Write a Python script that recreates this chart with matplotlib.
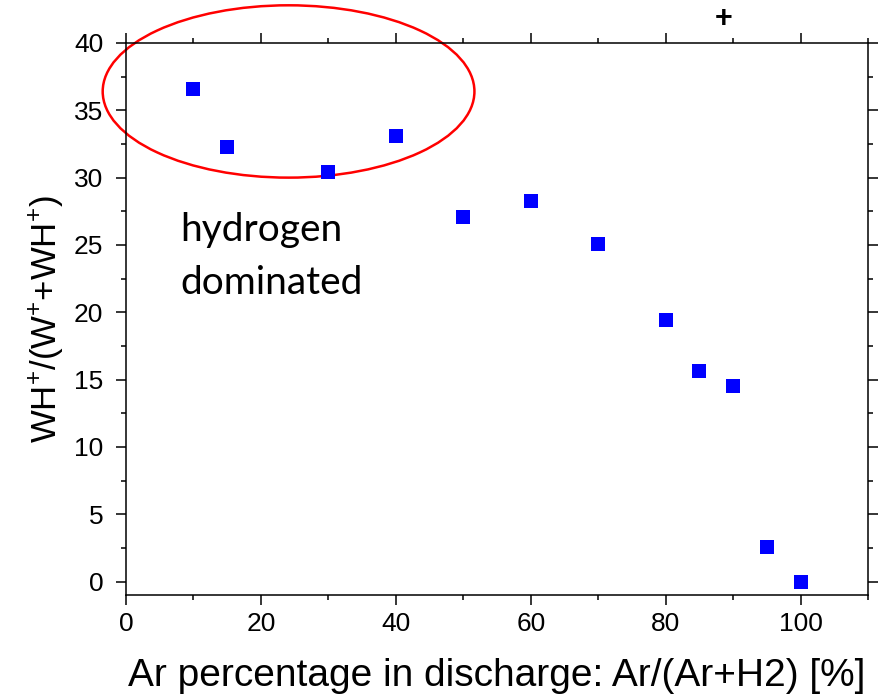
"""WH+ fraction versus Ar percentage in the discharge."""

import matplotlib

matplotlib.use("Agg")

import matplotlib.pyplot as plt
from matplotlib.patches import Ellipse
from matplotlib.ticker import MultipleLocator

plt.rcParams["font.family"] = ["Liberation Sans", "DejaVu Sans"]
plt.rcParams["mathtext.fontset"] = "custom"
plt.rcParams["mathtext.rm"] = "Liberation Sans"
plt.rcParams["mathtext.it"] = "Liberation Sans"
plt.rcParams["mathtext.bf"] = "Liberation Sans:bold"

ar_percent = [10, 15, 30, 40, 50, 60, 70, 80, 85, 90, 95, 100]
wh_fraction = [36.6, 32.3, 30.45, 33.1, 27.1, 28.25, 25.1, 19.4, 15.6, 14.55, 2.55, 0.0]

# circled "hydrogen dominated" region (data coords)
region_center = (24.1, 36.4)
region_width = 55.1
region_height = 12.8
note_lines = ["hydrogen", "dominated"]
note_baselines = [25.27, 21.39]

fig = plt.figure(figsize=(8.84, 6.98), dpi=100)
ax = fig.add_axes([0.1425, 0.1476, 0.8395, 0.7908])

ax.plot(ar_percent, wh_fraction, linestyle="none", marker="s", markersize=9.6,
        color="#0000ff", markeredgewidth=0)

ax.add_patch(Ellipse(region_center, region_width, region_height, fill=False,
                     edgecolor="#ff0000", linewidth=1.8, clip_on=False))

for line, y in zip(note_lines, note_baselines):
    ax.text(8.1, y, line, family=["Lato", "DejaVu Sans"], fontsize=28,
            ha="left", va="baseline")

ax.set_xlim(0, 110)
ax.set_ylim(-1, 40)
ax.xaxis.set_major_locator(MultipleLocator(20))
ax.xaxis.set_minor_locator(MultipleLocator(10))
ax.yaxis.set_major_locator(MultipleLocator(5))
ax.yaxis.set_minor_locator(MultipleLocator(2.5))

for side in ax.spines.values():
    side.set_linewidth(1.1)
ax.tick_params(which="both", direction="out", top=True, right=True, width=1.1)
ax.tick_params(which="major", length=7.2)
ax.tick_params(which="minor", length=3.5)
ax.tick_params(axis="x", labelsize=19, pad=5)
ax.tick_params(axis="y", labelsize=19, pad=9)

ax.set_xlabel("Ar percentage in discharge: Ar/(Ar+H2) [%]", fontsize=28, labelpad=16)
ax.set_ylabel(r"WH$^{+}$/(W$^{+}$+WH$^{+}$)", fontsize=25, labelpad=6)

# stray superscript left over from the cropped title (mathtext keeps the box tight)
fig.text(723 / 884, 1 - 2 / 698, r"$\mathbf{+}$", fontsize=22,
         ha="center", va="top")

fig.savefig("out.png", dpi=100)
